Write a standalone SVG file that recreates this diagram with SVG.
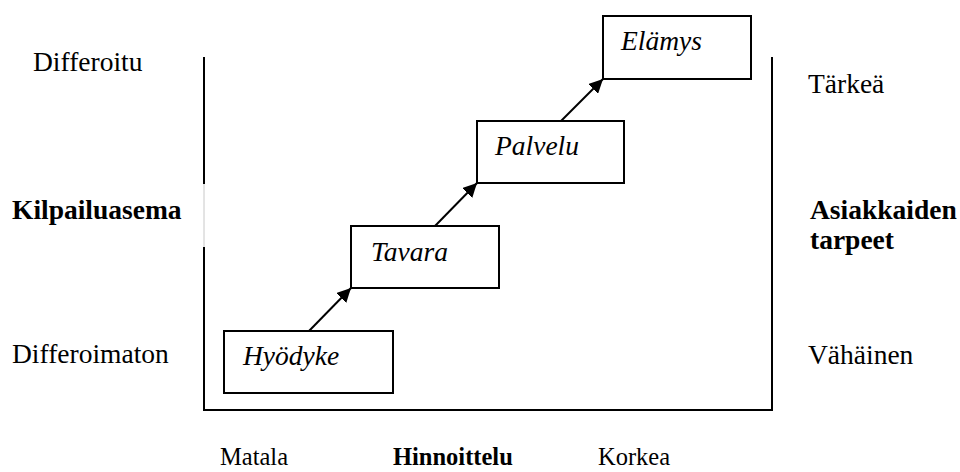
<svg xmlns="http://www.w3.org/2000/svg" width="960" height="472" viewBox="0 0 960 472">
  <defs>
    <marker id="head" viewBox="0 0 12 12" refX="12" refY="6" markerWidth="14" markerHeight="14" markerUnits="userSpaceOnUse" orient="auto">
      <path d="M0,0 L12,6 L0,12 z" fill="#000"/>
    </marker>
    <style>
      text { font-family: "Liberation Serif", "DejaVu Serif", serif; font-size: 27.5px; fill: #000; }
      .b { font-weight: bold; }
      .s { font-size: 24.5px; }
      .stage rect { fill: #fff; stroke: #000; stroke-width: 2; }
      .stage text { font-style: italic; }
      .axis { stroke: #000; stroke-width: 2; fill: none; }
      .link { stroke: #000; stroke-width: 2; fill: none; marker-end: url(#head); }
    </style>
  </defs>
  <rect width="960" height="472" fill="#fff"/>

  <!-- frame -->
  <g id="frame">
    <path class="axis" d="M204,57 V184 M204,247 V410 H772 V57"/>
    <line x1="204" y1="184" x2="204" y2="247" stroke="#c8c8c8" stroke-width="1"/>
  </g>

  <!-- axis labels -->
  <g id="labels">
    <text x="33" y="71">Differoitu</text>
    <text x="12" y="219" class="b">Kilpailuasema</text>
    <text x="12" y="363">Differoimaton</text>
    <text x="808" y="93">Tärkeä</text>
    <text x="810" y="219" class="b">Asiakkaiden</text>
    <text x="810" y="249" class="b">tarpeet</text>
    <text x="808" y="364">Vähäinen</text>
    <text x="220" y="465" class="s">Matala</text>
    <text x="393" y="465" class="s b">Hinnoittelu</text>
    <text x="598" y="465" class="s">Korkea</text>
  </g>

  <!-- stages -->
  <g id="hyodyke" class="stage">
    <rect x="224" y="331" width="169" height="62"/>
    <text x="243" y="365">Hyödyke</text>
  </g>
  <g id="tavara" class="stage">
    <rect x="351" y="226" width="148" height="62"/>
    <text x="371" y="261">Tavara</text>
  </g>
  <g id="palvelu" class="stage">
    <rect x="477" y="121" width="147" height="62"/>
    <text x="495" y="155">Palvelu</text>
  </g>
  <g id="elamys" class="stage">
    <rect x="603" y="16" width="148" height="63"/>
    <text x="621" y="50">Elämys</text>
  </g>

  <!-- connectors -->
  <g id="connectors">
    <line class="link" x1="309" y1="331" x2="351" y2="288"/>
    <line class="link" x1="435" y1="226" x2="477" y2="183"/>
    <line class="link" x1="561" y1="121" x2="603" y2="79"/>
  </g>
</svg>
